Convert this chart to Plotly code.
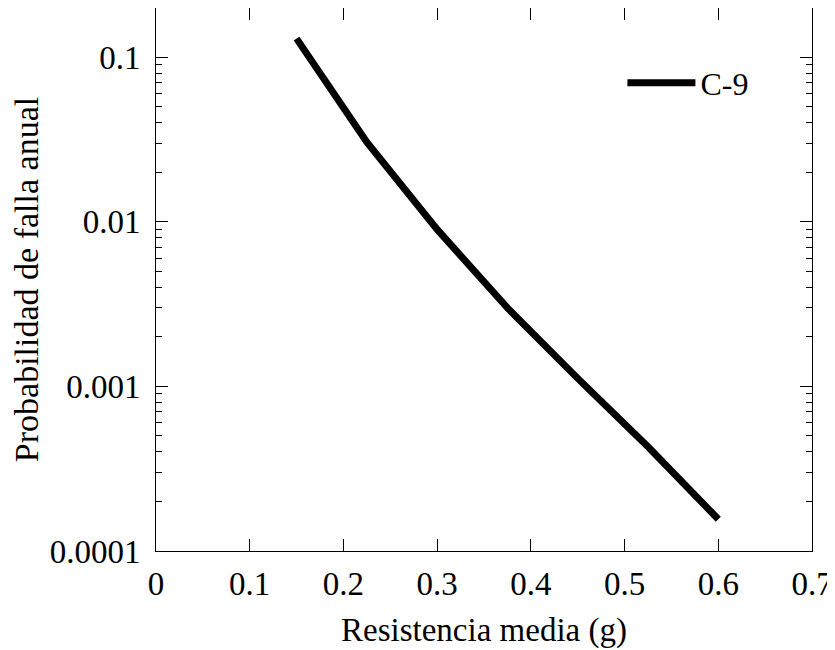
import plotly.graph_objects as go

resistencia = [0.15, 0.225, 0.3, 0.375, 0.45, 0.525, 0.6]
prob_falla = [0.13, 0.0305, 0.0090, 0.0030, 0.00112, 0.00043, 0.000156]
serie = "C-9"

x_ticks = [0, 0.1, 0.2, 0.3, 0.4, 0.5, 0.6, 0.7]
x_labels = ["0", "0.1", "0.2", "0.3", "0.4", "0.5", "0.6", "0.7"]
y_ticks = [0.0001, 0.001, 0.01, 0.1]
y_labels = ["0.0001", "0.001", "0.01", "0.1"]

font = "Liberation Serif, Times New Roman, serif"

fig = go.Figure()
fig.add_trace(go.Scatter(
    x=resistencia, y=prob_falla, mode="lines", name=serie,
    line=dict(color="black", width=7),
))

fig.update_layout(
    width=835, height=650,
    margin=dict(l=148, r=31, t=0, b=107),
    paper_bgcolor="white", plot_bgcolor="white",
    font=dict(family=font, size=32, color="black"),
    showlegend=True,
    legend=dict(x=0.711, y=0.862, xanchor="left", yanchor="middle",
                bgcolor="rgba(0,0,0,0)", font=dict(size=32, family=font),
                itemwidth=68, tracegroupgap=0),
)
fig.update_xaxes(
    range=[0, 0.7], tickvals=x_ticks, ticktext=x_labels, automargin=False,
    showgrid=False, zeroline=False, showline=True, linecolor="black", linewidth=1,
    mirror="ticks", ticks="inside", ticklen=12, tickcolor="black",
    tickfont=dict(size=33, family=font), ticklabelstandoff=3,
    title=dict(text="Resistencia media (g)", font=dict(size=33, family=font), standoff=17),
)
fig.update_yaxes(
    type="log", range=[-4, -0.7], tickvals=y_ticks, ticktext=y_labels, automargin=False,
    showgrid=False, zeroline=False, showline=True, linecolor="black", linewidth=1,
    mirror="ticks", ticks="inside", ticklen=12, tickcolor="black",
    tickfont=dict(size=33, family=font), ticklabelstandoff=8,
    minor=dict(ticks="inside", ticklen=6, tickcolor="black", dtick="D1", showgrid=False),
    title=dict(text="Probabilidad de falla anual", font=dict(size=34, family=font), standoff=0),
)

fig.write_html("out.html")
